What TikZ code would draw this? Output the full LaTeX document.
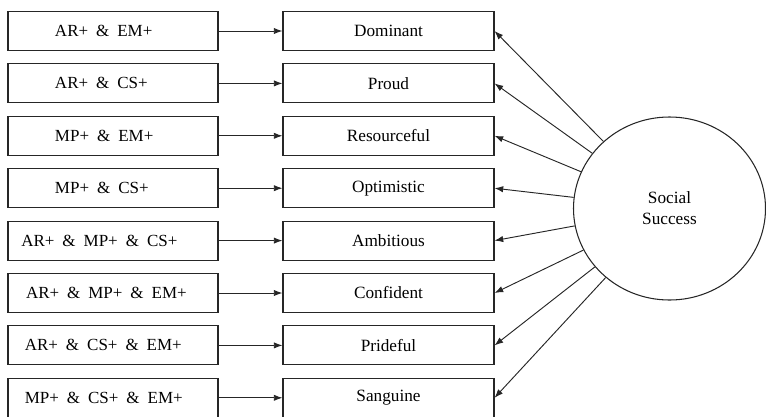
\documentclass[tikz,border=0pt]{standalone}
\usepackage{fontspec}
\setmainfont{Liberation Serif}
\usetikzlibrary{arrows.meta,shapes.geometric}
\newcommand{\andgap}{\hspace{0.47em}\&\hspace{0.47em}}

\begin{document}
\begin{tikzpicture}[x=0.03cm,y=-0.03cm]
\tikzset{
  condbox/.style={draw=black!85,line width=0.9pt,minimum height=1.17cm,inner ysep=0pt,align=left,font=\fontsize{14.5}{16}\selectfont},
  condshort/.style={condbox,inner xsep=1.41cm,text width=3.48cm},
  condlong/.style={condbox,inner xsep=0.40cm,text width=5.50cm},
  traitbox/.style={draw=black!85,line width=0.9pt,minimum width=6.33cm,minimum height=1.17cm,inner sep=0pt,font=\fontsize{14.7}{16}\selectfont},
  hub/.style={ellipse,draw=black!85,line width=0.9pt,minimum width=5.76cm,minimum height=5.49cm,inner sep=0pt,align=center,font=\fontsize{14.7}{18}\selectfont},
  feed/.style={-{Latex[length=2.6mm,width=1.9mm]},line width=0.8pt,draw=black!85}
}
\useasboundingbox (0,0) rectangle (766,416);
\node[condshort] (n_c_1) at (113,31.0) {AR+\andgap EM+};
\node[condshort] (n_c_2) at (113,83.4) {AR+\andgap CS+};
\node[condshort] (n_c_3) at (113,135.8) {MP+\andgap EM+};
\node[condshort] (n_c_4) at (113,188.2) {MP+\andgap CS+};
\node[condlong] (n_c_5) at (113,240.6) {AR+\andgap MP+\andgap CS+};
\node[condlong] (n_c_6) at (113,293.0) {\hspace*{4pt}AR+\andgap MP+\andgap EM+};
\node[condlong] (n_c_7) at (113,345.4) {\hspace*{3pt}AR+\andgap CS+\andgap EM+};
\node[condlong] (n_c_8) at (113,397.8) {\hspace*{3pt}MP+\andgap CS+\andgap EM+};
\node[traitbox] (n_t_1) at (388.5,31.0) {Dominant};
\node[traitbox] (n_t_2) at (388.5,83.4) {Proud};
\node[traitbox] (n_t_3) at (388.5,135.8) {Resourceful};
\node[traitbox] (n_t_4) at (388.5,188.2) {Optimistic};
\node[traitbox] (n_t_5) at (388.5,240.6) {Ambitious};
\node[traitbox] (n_t_6) at (388.5,293.0) {Confident};
\node[traitbox] (n_t_7) at (388.5,345.4) {Prideful};
\node[traitbox] (n_t_8) at (388.5,397.8) {Sanguine};
\node[hub] (n_ss) at (669.5,208.5) {Social\\Success};
\draw[feed] (n_c_1) -- (n_t_1);
\draw[feed] (n_c_2) -- (n_t_2);
\draw[feed] (n_c_3) -- (n_t_3);
\draw[feed] (n_c_4) -- (n_t_4);
\draw[feed] (n_c_5) -- (n_t_5);
\draw[feed] (n_c_6) -- (n_t_6);
\draw[feed] (n_c_7) -- (n_t_7);
\draw[feed] (n_c_8) -- (n_t_8);
\draw[feed] (n_ss) -- (n_t_1.east);
\draw[feed] (n_ss) -- (n_t_2.east);
\draw[feed] (n_ss) -- (n_t_3.east);
\draw[feed] (n_ss) -- (n_t_4.east);
\draw[feed] (n_ss) -- (n_t_5.east);
\draw[feed] (n_ss) -- (n_t_6.east);
\draw[feed] (n_ss) -- (n_t_7.east);
\draw[feed] (n_ss) -- (n_t_8.east);
\end{tikzpicture}
\end{document}
